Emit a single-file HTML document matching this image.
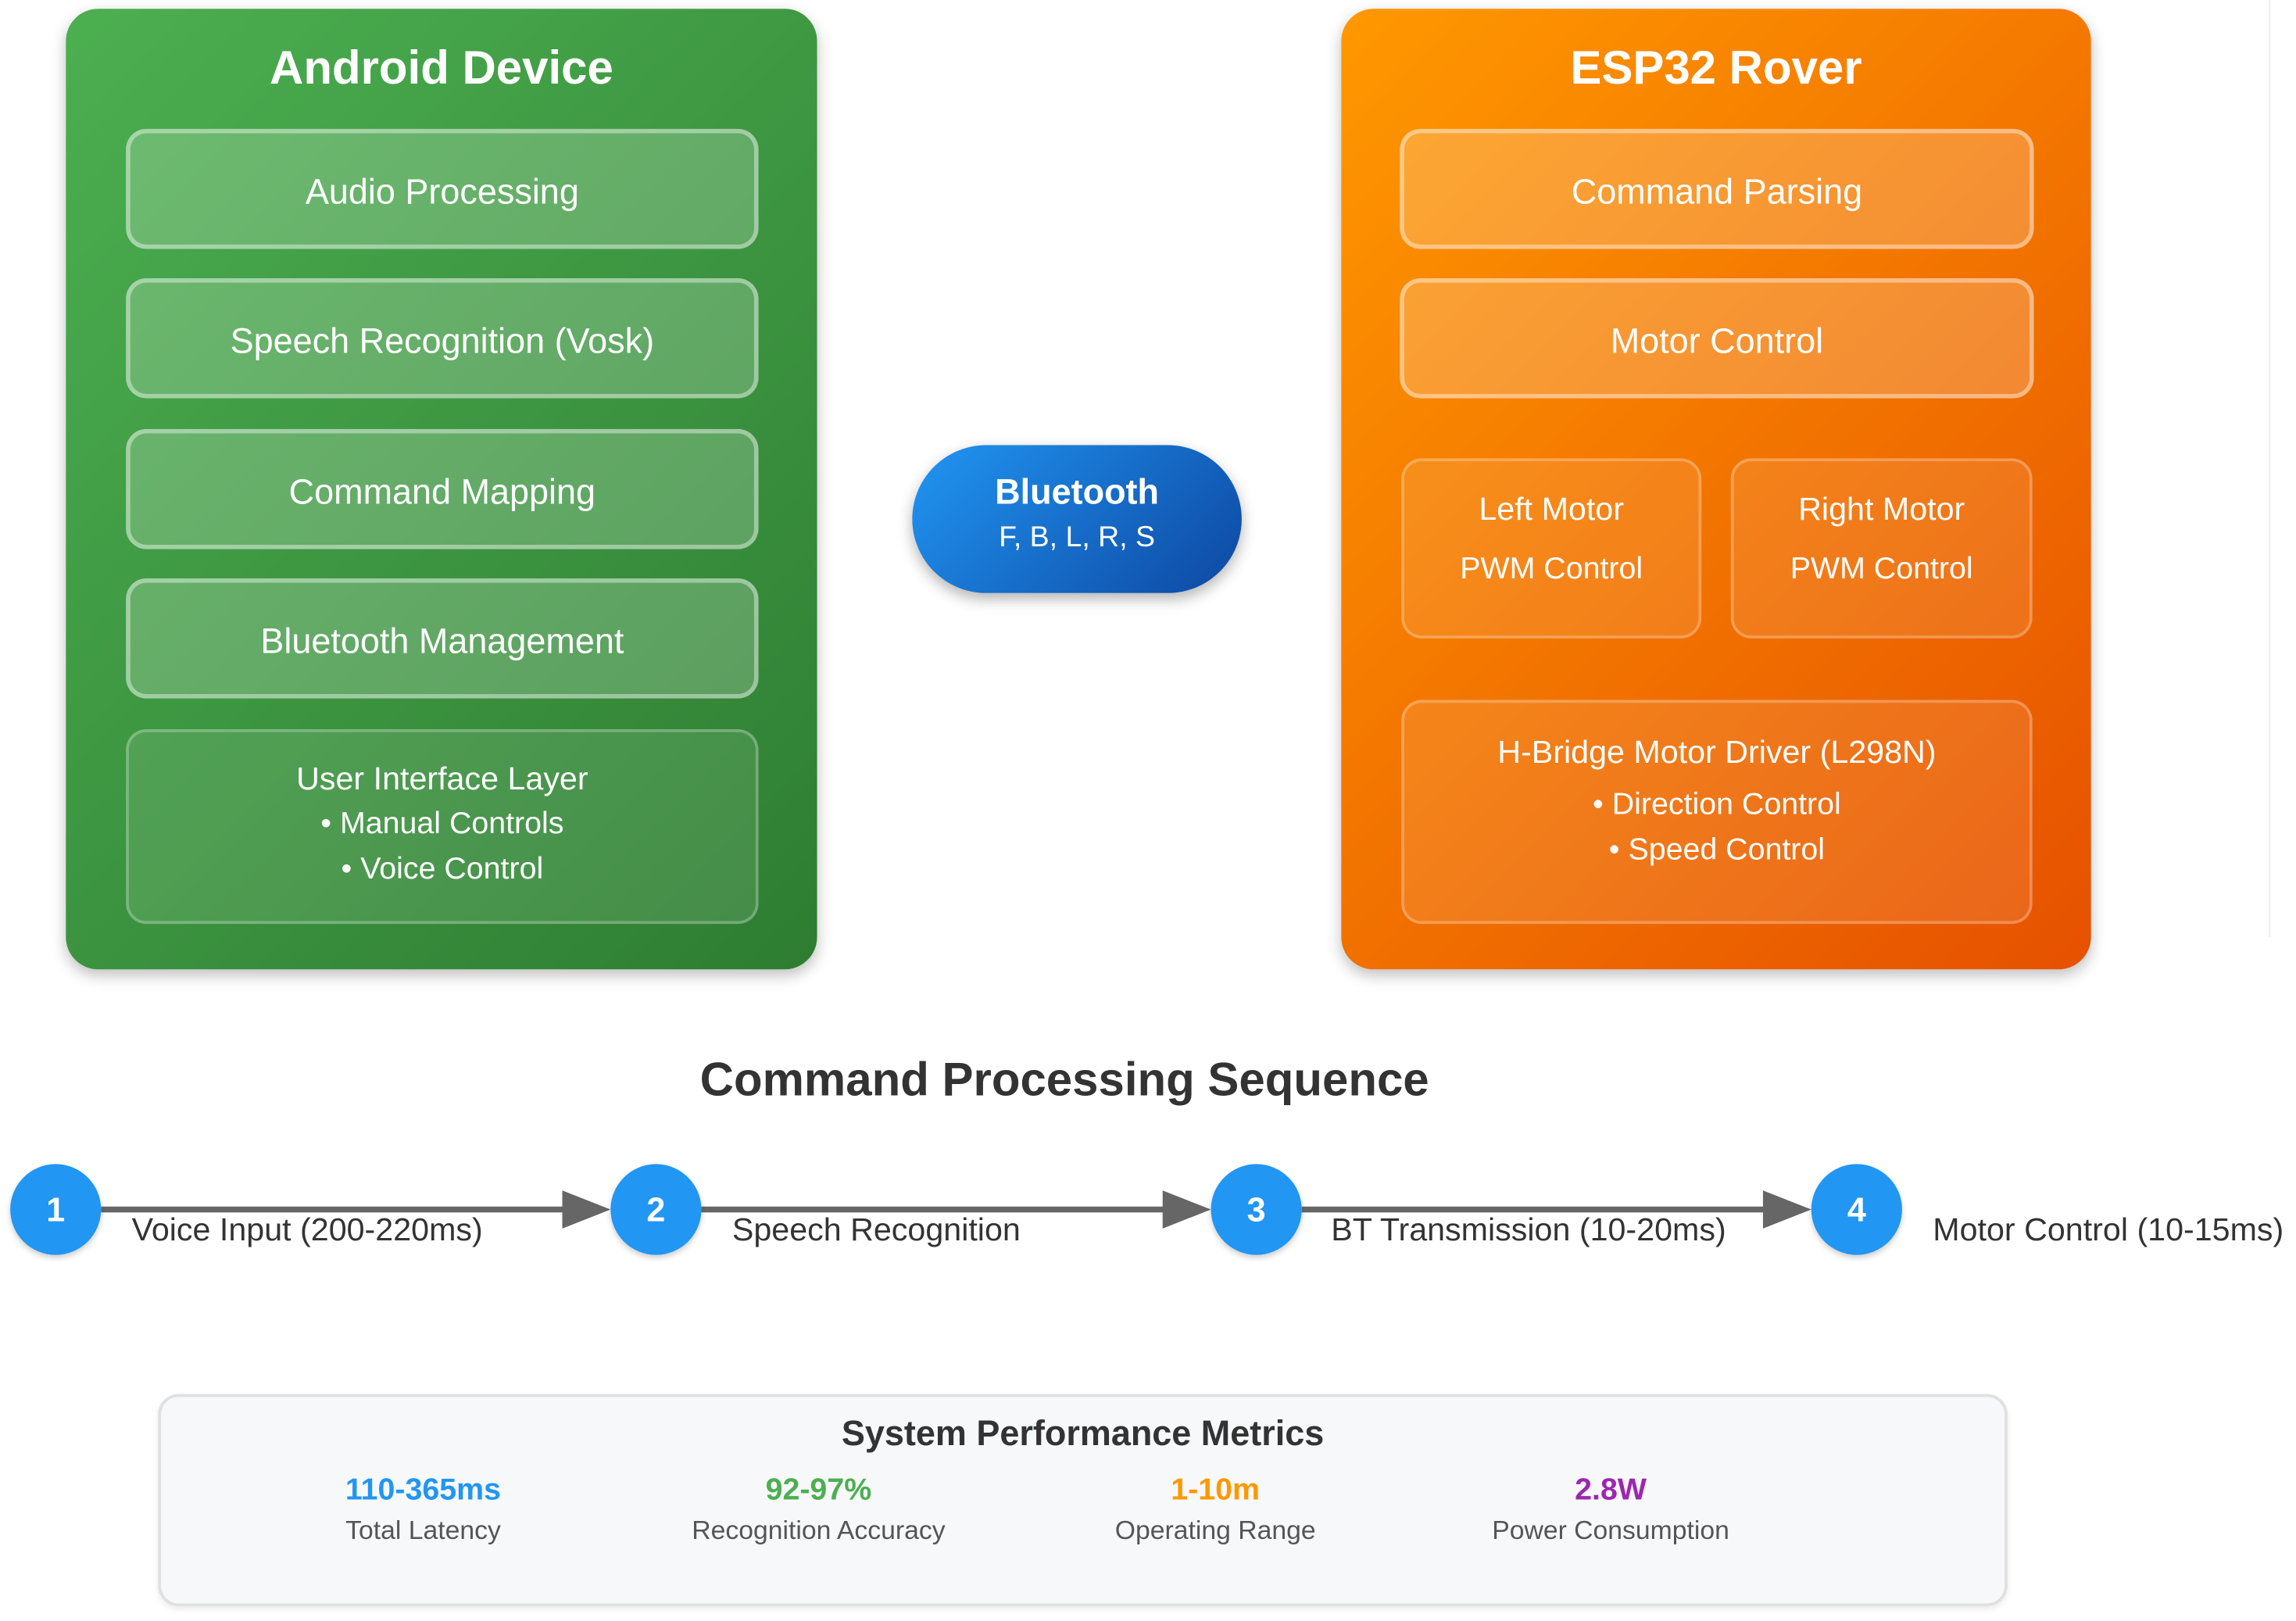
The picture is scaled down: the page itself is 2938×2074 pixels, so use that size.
<!DOCTYPE html>
<html><head><meta charset="utf-8"><style>
html,body{margin:0;padding:0;background:#fff;width:2938px;height:2074px;overflow:hidden;}
#w{position:absolute;left:0;top:0;width:1568px;height:1107px;transform:scale(1.8737,1.8735);transform-origin:0 0;font-family:"Liberation Sans",sans-serif;}
.abs{position:absolute;}
.big{border-radius:22px;box-shadow:0 4px 10px rgba(0,0,0,.25);}
.t{position:absolute;left:0;right:0;text-align:center;color:#fff;}
.ib{position:absolute;box-sizing:border-box;border:3px solid rgba(255,255,255,.4);background:rgba(255,255,255,.2);border-radius:14px;color:#fff;font-size:24px;display:flex;align-items:center;justify-content:center;text-align:center;padding-top:5px;}
.ib2{position:absolute;box-sizing:border-box;border:2px solid rgba(255,255,255,.25);background:rgba(255,255,255,.1);border-radius:14px;color:#fff;font-size:21px;text-align:center;}
.c{position:absolute;width:62px;height:62px;border-radius:50%;background:#2196f3;color:#fff;font-weight:bold;font-size:23px;display:flex;align-items:center;justify-content:center;box-shadow:0 2px 4px rgba(0,0,0,.2);}
.lb{position:absolute;top:827px;font-size:22px;color:#333;}
.mv{position:absolute;width:220px;text-align:center;top:1006px;font-weight:bold;font-size:21px;}
.ml{position:absolute;width:220px;text-align:center;top:1035px;font-size:18px;color:#555;}
</style></head><body><div id="w">
<div class="abs big" style="left:45px;top:6px;width:513px;height:656px;background:linear-gradient(135deg,#4caf50,#2e7d32);">
<div class="t" style="top:22px;font-size:32px;font-weight:bold;">Android Device</div></div>
<div class="ib" style="left:86px;top:88px;width:432px;height:82px;">Audio Processing</div>
<div class="ib" style="left:86px;top:190px;width:432px;height:82px;">Speech Recognition (Vosk)</div>
<div class="ib" style="left:86px;top:293px;width:432px;height:82px;">Command Mapping</div>
<div class="ib" style="left:86px;top:395px;width:432px;height:82px;">Bluetooth Management</div>
<div class="ib2" style="left:86px;top:498px;width:432px;height:133px;line-height:31px;padding-top:16px;"><div style="font-size:22px">User Interface Layer</div><div>• Manual Controls</div><div>• Voice Control</div></div>

<div class="abs big" style="left:916px;top:6px;width:512px;height:656px;background:linear-gradient(135deg,#ff9800,#e65100);">
<div class="t" style="top:22px;font-size:32px;font-weight:bold;">ESP32 Rover</div></div>
<div class="ib" style="left:956px;top:88px;width:433px;height:82px;">Command Parsing</div>
<div class="ib" style="left:956px;top:190px;width:433px;height:82px;">Motor Control</div>
<div class="ib2" style="left:957px;top:313px;width:205px;height:123px;line-height:41px;padding-top:12px;"><div style="font-size:22px">Left Motor</div><div>PWM Control</div></div>
<div class="ib2" style="left:1182px;top:313px;width:206px;height:123px;line-height:41px;padding-top:12px;"><div style="font-size:22px">Right Motor</div><div>PWM Control</div></div>
<div class="ib2" style="left:957px;top:478px;width:431px;height:153px;line-height:31px;padding-top:14px;"><div style="font-size:22px;line-height:40px;">H-Bridge Motor Driver (L298N)</div><div>• Direction Control</div><div>• Speed Control</div></div>

<div class="abs" style="left:623px;top:304px;width:225px;height:101px;border-radius:51px;background:linear-gradient(135deg,#2196f3,#0d47a1);box-shadow:0 4px 10px rgba(0,0,0,.3);color:#fff;text-align:center;">
<div style="margin-top:19px;font-weight:bold;font-size:24px;">Bluetooth</div><div style="font-size:20px;margin-top:5px;">F, B, L, R, S</div></div>

<div class="abs" style="left:0;width:1454px;top:719px;text-align:center;font-weight:bold;font-size:32px;color:#333;">Command Processing Sequence</div>

<svg class="abs" style="left:0;top:0" width="1568" height="1107">
<g fill="#666" stroke="#666" stroke-width="4">
<line x1="69" y1="826" x2="390" y2="826"/><polygon stroke="none" points="384,813 417,826 384,839"/>
<line x1="479" y1="826" x2="800" y2="826"/><polygon stroke="none" points="794,813 827,826 794,839"/>
<line x1="889" y1="826" x2="1210" y2="826"/><polygon stroke="none" points="1204,813 1237,826 1204,839"/>
</g>
<line x1="1550" y1="0" x2="1550" y2="640" stroke="#eee" stroke-width="1"/>
</svg>
<div class="c" style="left:7px;top:795px;">1</div>
<div class="c" style="left:417px;top:795px;">2</div>
<div class="c" style="left:827px;top:795px;">3</div>
<div class="c" style="left:1237px;top:795px;">4</div>
<div class="lb" style="left:90px;">Voice Input (200-220ms)</div>
<div class="lb" style="left:500px;">Speech Recognition</div>
<div class="lb" style="left:909px;">BT Transmission (10-20ms)</div>
<div class="lb" style="left:1320px;">Motor Control (10-15ms)</div>

<div class="abs" style="left:108px;top:952px;width:1263px;height:145px;box-sizing:border-box;border:2px solid #e0e0e0;border-radius:14px;background:#f7f8fa;box-shadow:0 2px 4px rgba(0,0,0,.08);"></div>
<div class="abs" style="left:108px;width:1263px;top:966px;text-align:center;font-weight:bold;font-size:24px;color:#333;">System Performance Metrics</div>
<div class="mv" style="left:179px;color:#2196f3;">110-365ms</div><div class="ml" style="left:179px;">Total Latency</div>
<div class="mv" style="left:449px;color:#4caf50;">92-97%</div><div class="ml" style="left:449px;">Recognition Accuracy</div>
<div class="mv" style="left:720px;color:#ff9800;">1-10m</div><div class="ml" style="left:720px;">Operating Range</div>
<div class="mv" style="left:990px;color:#9c27b0;">2.8W</div><div class="ml" style="left:990px;">Power Consumption</div>
</div></body></html>
